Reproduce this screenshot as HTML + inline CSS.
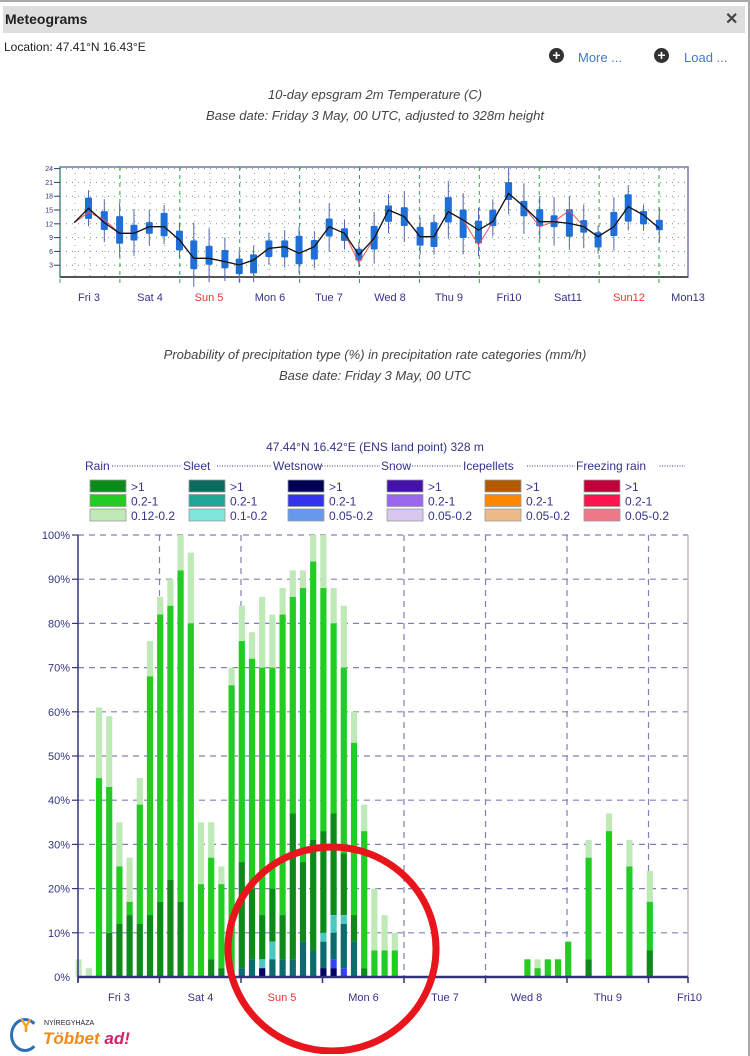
<!DOCTYPE html>
<html><head><meta charset="utf-8">
<style>
html,body{margin:0;padding:0;background:#fff;}
body{width:750px;height:1054px;position:relative;overflow:hidden;font-family:"Liberation Sans",sans-serif;}
.a{position:absolute;white-space:nowrap;}
</style></head><body>
<div class="a" style="left:0;top:0;width:748px;height:1054px;border-top:2px solid #aaa;border-right:2px solid #aaa;"></div>
<div class="a" style="left:3px;top:6px;width:742px;height:27px;background:#dedede;"></div>
<div class="a" style="left:5px;top:11px;font-size:14px;font-weight:bold;color:#222;">Meteograms</div>
<div class="a" style="left:725px;top:9px;font-size:16px;font-weight:bold;color:#444;">✕</div>
<div class="a" style="left:4px;top:40px;font-size:12px;color:#222;">Location: 47.41°N 16.43°E</div>
<div class="a" style="left:549px;top:48px;width:15px;height:15px;border-radius:50%;background:#333;color:#fff;font-size:14px;line-height:15px;text-align:center;font-weight:bold;">+</div>
<div class="a" style="left:578px;top:50px;font-size:13px;color:#4477cc;">More ...</div>
<div class="a" style="left:654px;top:48px;width:15px;height:15px;border-radius:50%;background:#333;color:#fff;font-size:14px;line-height:15px;text-align:center;font-weight:bold;">+</div>
<div class="a" style="left:684px;top:50px;font-size:13px;color:#4477cc;">Load ...</div>
<div class="a" style="left:0;width:750px;top:87px;text-align:center;font-size:13px;font-style:italic;color:#444;">10-day epsgram 2m Temperature (C)</div>
<div class="a" style="left:0;width:750px;top:108px;text-align:center;font-size:13px;font-style:italic;color:#444;">Base date: Friday 3 May, 00 UTC, adjusted to 328m height</div>
<div class="a" style="left:0;width:750px;top:347px;text-align:center;font-size:13px;font-style:italic;color:#444;">Probability of precipitation type (%) in precipitation rate categories (mm/h)</div>
<div class="a" style="left:0;width:750px;top:368px;text-align:center;font-size:13px;font-style:italic;color:#444;">Base date: Friday 3 May, 00 UTC</div>

<svg class="a" style="left:0;top:0" width="750" height="1054" id="s">
<g id="top"></g>
<g id="bot"></g>
<ellipse cx="332" cy="949" rx="104" ry="102" fill="none" stroke="#e8161c" stroke-width="7"/>
</svg>

<div class="a" style="left:10px;top:1018px;width:24px;height:28px;border:3px solid #2a6fb8;border-radius:50%;border-right-color:transparent;"></div>
<div class="a" style="left:20px;top:1016px;font-size:18px;color:#f3a21c;font-weight:bold;">Y</div>
<div class="a" style="left:44px;top:1020px;font-size:7px;color:#223;">NYÍREGYHÁZA</div>
<div class="a" style="left:43px;top:1029px;font-size:17px;font-weight:bold;font-style:italic;color:#f08a1c;">Többet <span style="color:#d0226c">ad!</span></div>

<script>
var NS="http://www.w3.org/2000/svg";
function el(p,t,a,txt){var e=document.createElementNS(NS,t);for(var k in a)e.setAttribute(k,a[k]);if(txt!==undefined)e.textContent=txt;p.appendChild(e);return e;}
// ---------- top chart ----------
var T=document.getElementById('top');
var L=60,R=688,Y0=279,sc=4.6;
function ty(v){return Y0-v*sc;}
el(T,'rect',{x:L,y:167,width:R-L,height:110,fill:'#fff',stroke:'#7777aa','stroke-width':1.5});
for(var v=3;v<=24;v+=3){var y=ty(v);el(T,'line',{x1:L,x2:R,y1:y,y2:y,stroke:'#6a9a6a','stroke-width':1,'stroke-dasharray':'1,5'});
el(T,'line',{x1:L-6,x2:L,y1:y,y2:y,stroke:'#333377'});
el(T,'text',{x:L-7,y:y+2.5,'font-size':7,'text-anchor':'end',fill:'#333377','font-family':'Liberation Sans'},v);}
var dw=59.9;
for(var i=0;i<=42;i++){var x=L+i*dw/4;if(x>R)break;
if(i%4==0){el(T,'line',{x1:x,x2:x,y1:167,y2:284,stroke:'#22aa44','stroke-dasharray':'4,4'});}
else el(T,'line',{x1:x,x2:x,y1:167,y2:277,stroke:'#8a8','stroke-dasharray':'1,5'});}
el(T,'line',{x1:L,x2:R,y1:277,y2:277,stroke:'#555',"stroke-width":2});
var days=['Fri 3','Sat 4','Sun 5','Mon 6','Tue 7','Wed 8','Thu 9','Fri10','Sat11','Sun12','Mon13'];
var dx=[89,150,209,270,329,390,449,509,568,629,688];
days.forEach(function(d,k){el(T,'text',{x:dx[k],y:301,'font-size':11,'text-anchor':'middle',fill:(d.indexOf('Sun')==0?'#ee3333':'#333388'),'font-family':'Liberation Sans'},d);});
var pts=[[155,668],[185,625],[218,668],[250,700],[280,700],[312,680],[343,680],[375,720],[405,775],[437,775],[470,785],[500,795],[530,780],[562,745],[595,740],[625,760],[657,740],[688,680],[720,700],[750,765],[782,715],[812,630],[845,650],[878,710],[907,710],[937,635],[968,660],[1000,690],[1030,665],[1063,580],[1095,620],[1128,665],[1158,665],[1190,670],[1220,680],[1250,710],[1283,680],[1313,620],[1345,645],[1378,685]];
var P=pts.map(function(p){return [p[0]/2.09,p[1]/3];});
var red=P.map(function(p,k){var d=0;if(k==27)d=15;if(k==33)d=-13;if(k==31)d=5;if(k==19)d=8;if(k==2)d=-3;if(k==1)d=4;return p[0]+','+(p[1]+d);}).join(' ');
var seed=7;function rnd(){seed=(seed*9301+49297)%233280;return seed/233280;}
P.forEach(function(p,k){if(k==0)return;var x=p[0],y=p[1];var o=(rnd()-0.5)*8;var h=5+rnd()*10;var w=6+rnd()*12;
el(T,'line',{x1:x,x2:x,y1:y+o-h-w,y2:y+o+h+w,stroke:'#5566aa','stroke-width':1});
el(T,'rect',{x:x-3.5,y:y+o-h,width:7,height:2*h,fill:'#1f6fd8',rx:1});});
el(T,'polyline',{points:red,fill:'none',stroke:'#ee5555','stroke-width':1});
el(T,'polyline',{points:P.map(function(p){return p[0]+','+p[1];}).join(' '),fill:'none',stroke:'#111','stroke-width':1.3});

// ---------- bar chart ----------
var B=document.getElementById('bot');
el(B,'text',{x:375,y:451,'font-size':12,'text-anchor':'middle',fill:'#333388','font-family':'Liberation Sans'},'47.44°N 16.42°E (ENS land point) 328 m');
var heads=[['Rain',85],['Sleet',183],['Wetsnow',273],['Snow',381],['Icepellets',463],['Freezing rain',576]];
el(B,'line',{x1:112,x2:685,y1:466,y2:466,stroke:'#333388','stroke-dasharray':'1,1.5'});
heads.forEach(function(h){var w=h[0].length*6.3;el(B,'rect',{x:h[1]-1,y:458,width:w+2,height:12,fill:'#fff'});el(B,'text',{x:h[1],y:470,'font-size':12,fill:'#333388','font-family':'Liberation Sans'},h[0]);});
var cols=[['#0d8a1a','#22cc22','#bfeab8'],['#0b6b5e','#1ea898','#7ee6dc'],['#000055','#3333ee','#6699ee'],['#4411aa','#9966ee','#d8c8f0'],['#b25a00','#ff8800','#eebb88'],['#c0003a','#ff1450','#ee7788']];
var labs=[['>1','0.2-1','0.12-0.2'],['>1','0.2-1','0.1-0.2'],['>1','0.2-1','0.05-0.2'],['>1','0.2-1','0.05-0.2'],['>1','0.2-1','0.05-0.2'],['>1','0.2-1','0.05-0.2']];
var lx=[90,189,288,387,485,584];
lx.forEach(function(x,c){for(var r=0;r<3;r++){var y=480+r*14.5;el(B,'rect',{x:x,y:y,width:36,height:12,fill:cols[c][r],stroke:'#999','stroke-width':0.8});
el(B,'text',{x:x+41,y:y+11,'font-size':12,fill:'#333388','font-family':'Liberation Sans'},labs[c][r]);}});
var X0=78,XR=688,Z=977,ps=4.42;
function by(v){return Z-v*ps;}
for(var v=10;v<=100;v+=10){var y=by(v);el(B,'line',{x1:X0,x2:XR,y1:y,y2:y,stroke:'#8080b8','stroke-dasharray':'6,5','stroke-width':1.2});
el(B,'line',{x1:X0-6,x2:X0,y1:y,y2:y,stroke:'#333377','stroke-width':1.2});}
for(var v=0;v<=100;v+=10)el(B,'text',{x:X0-8,y:by(v)+4,'font-size':11,'text-anchor':'end',fill:'#333388','font-family':'Liberation Sans'},v+'%');
var gx=[159.5,241,322.5,404,485.5,567,648.5];
gx.forEach(function(x){el(B,'line',{x1:x,x2:x,y1:by(100),y2:Z,stroke:'#8080b8','stroke-dasharray':'6,5','stroke-width':1.2});});
el(B,'line',{x1:XR,x2:XR,y1:by(100),y2:Z,stroke:'#c8b8b0','stroke-width':1.5});
// bars: [light,mid,dark, tealdark, tealmid, cyan, navy, blue] (cumulative tops; stacking bottom: navy,blue,tealdark,tealmid,cyan,dark,mid,light)
var D={0:[4],1:[2],2:[61,45,0],3:[59,43,10],4:[35,25,12],5:[27,17,14],6:[45,39,12],7:[76,68,14],8:[86,82,17],9:[90,84,22],10:[100,92,17],11:[96,80,0],12:[35,21,0],13:[35,27,4],14:[25,21,2],
15:[70,66,0],16:[84,76,26,2],17:[78,72,20,4],18:[86,70,14,0,0,4,2],19:[82,70,20,4,0,8],20:[88,82,14,4],21:[92,86,37,4],22:[92,88,26,8],23:[100,94,31,6],24:[100,88,33,8,0,10,2],25:[88,80,37,10,0,14,2,4],26:[84,70,28,12,0,14,0,2],27:[60,53,14,8],28:[39,33,2],29:[20,6],30:[14,6],31:[10,6],
44:[4,4],45:[4,2],46:[4,4],47:[4,4],48:[8,8],50:[31,27,4],52:[37,33],54:[31,25],56:[24,17,6]};
for(var k in D){var d=D[k];var x=78.5+10.2*k-3;var w=6.2;
function seg(a,b,c){if(b>a)el(B,'rect',{x:x,y:by(b),width:w,height:(b-a)*ps,fill:c});}
var light=d[0],mid=d[1]||0,dark=d[2]||0,td=d[3]||0,tm=d[4]||0,cy=d[5]||0,nv=d[6]||0,bl=d[7]||0;
seg(Math.max(mid,0),light,'#bfeab8');seg(dark,mid,'#22cc22');
var base=Math.max(td,cy,nv,bl);seg(base,dark,'#0d8a1a');
seg(Math.max(td,nv,bl),cy,'#4cc8c0');seg(Math.max(nv,bl),td,'#0b6b6e');seg(nv,bl,'#3344ee');seg(0,nv,'#000066');}
el(B,'line',{x1:X0,x2:XR,y1:Z,y2:Z,stroke:'#333377','stroke-width':2.5});
el(B,'line',{x1:X0,x2:X0,y1:by(100),y2:Z+5,stroke:'#333377','stroke-width':1.5});
[78].concat(gx).concat([688]).forEach(function(x){el(B,'line',{x1:x,x2:x,y1:Z,y2:Z+6,stroke:'#333377','stroke-width':1.5});});
var bd=['Fri 3','Sat 4','Sun 5','Mon 6','Tue 7','Wed 8','Thu 9','Fri10'];
bd.forEach(function(d,k){el(B,'text',{x:119+k*81.5,y:1001,'font-size':11,'text-anchor':'middle',fill:(k==2?'#ee3333':'#333388'),'font-family':'Liberation Sans'},d);});
</script>
</body></html>
